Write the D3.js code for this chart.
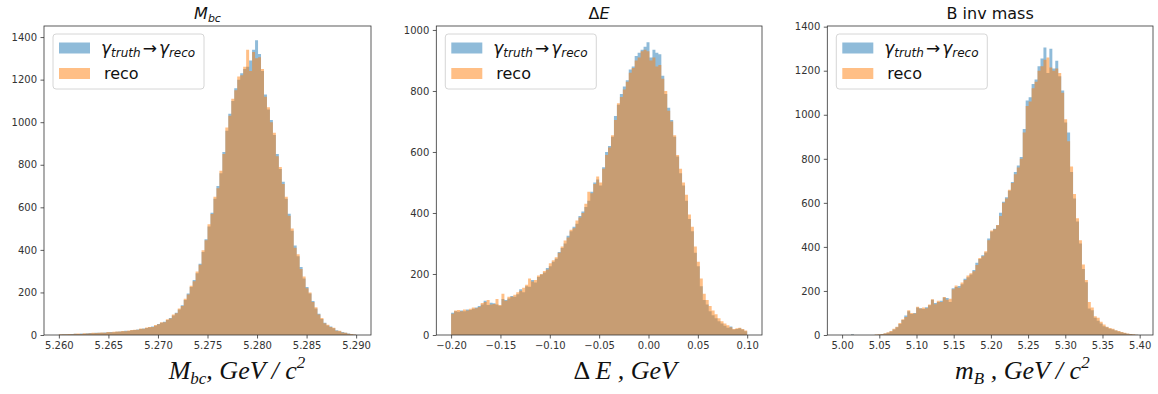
<!DOCTYPE html>
<html>
<head>
<meta charset="utf-8">
<script src="https://cdn.jsdelivr.net/npm/d3@7"></script>
<style>
  html, body { margin: 0; padding: 0; background: #fff; }
  svg { display: block; }
  .tick text { font-family: "DejaVu Sans", sans-serif; font-size: 10px; fill: #333; }
  .tick line { stroke: #333; stroke-width: 0.8; }
</style>
</head>
<body>
<svg id="chart" width="1158" height="394"></svg>
<script>
// ---------------- DATA ----------------
const seriesNames = ["truth", "reco"];

// Panel 1 : M_bc, 100 bins over [5.26, 5.29]
const mbcRange = [5.26, 5.29];
const mbcTruth = [
  2, 3, 4, 3, 5, 6, 5, 7, 6, 8,
  9, 8, 10, 11, 10, 12, 13, 14, 13, 15,
  17, 18, 20, 19, 22, 24, 26, 28, 30, 33,
  36, 40, 44, 52, 57, 62, 70, 80, 92, 105,
  120, 140, 165, 195, 225, 258, 290, 335, 390, 450,
  510, 575, 640, 700, 760, 860, 960, 1040, 1100, 1160,
  1200, 1230, 1250, 1260, 1290, 1340, 1385, 1320, 1240, 1130,
  1060, 1010, 940, 850, 780, 720, 640, 570, 490, 420,
  370, 320, 265, 225, 195, 160, 125, 100, 75, 58,
  45, 40, 32, 22, 18, 14, 10, 7, 4, 2
];
const mbcReco = [
  3, 4, 3, 5, 4, 6, 7, 5, 8, 7,
  8, 10, 9, 10, 12, 11, 14, 13, 15, 16,
  16, 19, 18, 21, 23, 25, 25, 30, 29, 35,
  38, 38, 47, 50, 60, 60, 74, 78, 96, 102,
  125, 136, 170, 190, 232, 252, 298, 330, 398, 445,
  520, 568, 650, 690, 772, 850, 975, 1030, 1110, 1150,
  1215, 1220, 1260, 1340, 1240, 1330, 1300, 1305, 1250, 1120,
  1070, 1000, 950, 840, 790, 710, 650, 560, 500, 410,
  380, 310, 275, 220, 200, 155, 130, 96, 80, 55,
  48, 38, 34, 20, 20, 12, 11, 6, 5, 2
];

// Panel 2 : Delta E, 100 bins over [-0.2, 0.1]
const deRange = [-0.2, 0.1];
const deTruth = [
  73, 78, 76, 80, 78, 84, 82, 86, 90, 95,
  100, 112, 98, 106, 104, 100, 96, 118, 115, 120,
  128, 125, 134, 150, 140, 160, 158, 180, 172, 190,
  198, 205, 220, 225, 240, 250, 272, 285, 300, 325,
  340, 355, 365, 390, 405, 420, 440, 470, 500, 510,
  490, 550, 600, 620, 650, 718, 755, 790, 815, 835,
  870, 880, 915, 925, 935, 945, 960, 910, 935, 925,
  920, 850, 790, 745, 705, 650, 585, 530, 490, 440,
  380, 340, 270, 225, 160, 115, 100, 78, 65, 55,
  45, 38, 30, 24, 28, 18, 20, 22, 18, 12
];
const deReco = [
  70, 80, 82, 78, 84, 80, 86, 90, 88, 92,
  105, 108, 115, 100, 102, 118, 98, 135, 112, 125,
  125, 132, 140, 145, 155, 165, 185, 175, 180, 195,
  200, 210, 215, 235, 245, 255, 270, 290, 310, 320,
  345, 350, 375, 385, 400, 430, 470, 465, 495, 520,
  500, 545, 590, 615, 655, 705, 760, 780, 805, 830,
  860, 875, 900, 910, 930, 935, 930, 900, 910, 880,
  885, 840, 800, 735, 700, 655, 590, 545, 500, 460,
  395, 355, 290, 240, 185, 135, 115, 95, 80, 68,
  55, 45, 38, 32, 25, 20, 22, 24, 20, 15
];

// Panel 3 : B invariant mass, 100 bins over [5.0, 5.398]
const mbRange = [5.0, 5.398];
const mbTruth = [
  0, 0, 0, 3, 0, 0, 0, 0, 0, 0,
  0, 1, 2, 4, 7, 10, 16, 25, 35, 50,
  68, 88, 108, 95, 100, 125, 122, 118, 126, 135,
  160, 145, 150, 155, 170, 168, 150, 212, 218, 222,
  230, 255, 262, 275, 295, 328, 345, 362, 375, 438,
  470, 482, 498, 555, 605, 625, 655, 695, 740, 770,
  808, 935, 1065, 1080, 1140, 1160, 1220, 1255, 1305, 1190,
  1300, 1210, 1245, 1175, 1110, 965, 920, 740, 620, 515,
  415, 300, 240, 120, 112, 78, 65, 52, 40, 35,
  28, 25, 20, 16, 12, 9, 6, 4, 2, 1
];
const mbReco = [
  0, 0, 0, 1, 0, 0, 0, 0, 0, 0,
  0, 2, 3, 5, 8, 12, 18, 28, 38, 55,
  72, 82, 112, 100, 98, 128, 120, 125, 122, 138,
  162, 140, 155, 150, 172, 160, 165, 208, 225, 215,
  238, 250, 270, 280, 290, 318, 350, 358, 380, 430,
  475, 480, 500, 540, 600, 620, 660, 690, 730, 760,
  800, 920, 1040, 1060, 1120, 1150, 1200, 1220, 1250, 1260,
  1215, 1200, 1210, 1190, 1100, 980, 880, 765, 640, 530,
  430, 320, 250, 150, 125, 85, 78, 60, 48, 38,
  32, 28, 22, 18, 14, 10, 7, 5, 3, 1
];

// Axis limits / tick labels
const yLimits = [1452, 1013, 1403];
const mbcXTicks = [5.260, 5.265, 5.270, 5.275, 5.280, 5.285, 5.290];
const deXTicks = [-0.20, -0.15, -0.10, -0.05, 0.00, 0.05, 0.10];
const mbXTicks = [5.00, 5.05, 5.10, 5.15, 5.20, 5.25, 5.30, 5.35, 5.40];
const yTicks14 = [0, 200, 400, 600, 800, 1000, 1200, 1400];
const yTicks10 = [0, 200, 400, 600, 800, 1000];
const xTickFormats = [".3f", ".2f", ".2f"];

// ---------------- LAYOUT ----------------
const svg = d3.select("#chart");
const colors = ["#1f77b4", "#ff7f0e"];
const axTop = 26, axBottom = 335;

const panels = [
  { left: 44, right: 371, range: mbcRange, series: [mbcTruth, mbcReco], xticks: mbcXTicks, yticks: yTicks14,
    ymax: yLimits[0], fmt: xTickFormats[0], title: "mbc", xlabel: "mbc", xlabelMid: 193 },
  { left: 436.3, right: 762, range: deRange, series: [deTruth, deReco], xticks: deXTicks, yticks: yTicks10,
    ymax: yLimits[1], fmt: xTickFormats[1], title: "de", xlabel: "de", xlabelMid: 189 },
  { left: 827.3, right: 1153, range: mbRange, series: [mbTruth, mbReco], xticks: mbXTicks, yticks: yTicks14,
    ymax: yLimits[2], fmt: xTickFormats[2], title: "mb", xlabel: "mb", xlabelMid: 195 }
];

panels.forEach((p) => {
  const [lo, hi] = p.range;
  const pad = 0.05 * (hi - lo);
  const x = d3.scaleLinear().domain([lo - pad, hi + pad]).range([p.left, p.right]);
  const y = d3.scaleLinear().domain([0, p.ymax]).range([axBottom, axTop]);
  const g = svg.append("g");

  // histograms
  p.series.forEach((vals, si) => {
    const n = vals.length;
    const w = (hi - lo) / n;
    const pts = vals.map((v, i) => ({ x: lo + i * w, v }));
    pts.push({ x: hi, v: vals[n - 1] });
    const area = d3.area()
      .x(d => x(d.x))
      .y0(y(0))
      .y1(d => y(d.v))
      .curve(d3.curveStepAfter);
    g.append("path")
      .attr("d", area(pts))
      .attr("fill", colors[si])
      .attr("fill-opacity", 0.5);
  });

  // axes
  const xa = g.append("g").attr("transform", `translate(0,${axBottom})`)
    .call(d3.axisBottom(x).tickValues(p.xticks).tickFormat(d3.format(p.fmt)).tickSize(3.5).tickPadding(3.5));
  xa.select(".domain").remove();
  const ya = g.append("g").attr("transform", `translate(${p.left},0)`)
    .call(d3.axisLeft(y).tickValues(p.yticks).tickFormat(d3.format("d")).tickSize(3.5).tickPadding(3.5));
  ya.select(".domain").remove();

  // spines
  g.append("rect")
    .attr("x", p.left).attr("y", axTop)
    .attr("width", p.right - p.left).attr("height", axBottom - axTop)
    .attr("fill", "none").attr("stroke", "#333").attr("stroke-width", 0.8);

  // title
  const cx = (p.left + p.right) / 2;
  const t = g.append("text").attr("x", cx).attr("y", 19).attr("text-anchor", "middle")
    .style("font-family", "'DejaVu Sans', sans-serif").style("font-size", "16px").attr("fill", "#111");
  if (p.title === "mbc") {
    t.append("tspan").style("font-style", "italic").text("M");
    t.append("tspan").style("font-style", "italic").style("font-size", "11px").attr("dy", 3).text("bc");
  } else if (p.title === "de") {
    t.append("tspan").text("Δ");
    t.append("tspan").style("font-style", "italic").text("E");
  } else {
    t.text("B inv mass");
  }

  // legend
  const lx = p.left + 9, ly = 34;
  const leg = g.append("g");
  leg.append("rect").attr("x", lx).attr("y", ly).attr("width", 151).attr("height", 55)
    .attr("rx", 3).attr("fill", "#fff").attr("fill-opacity", 0.8)
    .attr("stroke", "#cccccc").attr("stroke-width", 0.8);
  leg.append("rect").attr("x", lx + 6).attr("y", ly + 8.5).attr("width", 31).attr("height", 11)
    .attr("fill", colors[0]).attr("fill-opacity", 0.5);
  leg.append("rect").attr("x", lx + 6).attr("y", ly + 34).attr("width", 31).attr("height", 11)
    .attr("fill", colors[1]).attr("fill-opacity", 0.5);
  const l1 = leg.append("text").attr("x", lx + 48).attr("y", ly + 20)
    .style("font-family", "'DejaVu Sans', sans-serif").style("font-size", "17px").attr("fill", "#111");
  l1.append("tspan").style("font-style", "italic").text("γ");
  l1.append("tspan").style("font-style", "italic").style("font-size", "12px").attr("dy", 3).text("truth");
  l1.append("tspan").attr("dy", -3).attr("dx", 2).text("→");
  l1.append("tspan").attr("dx", 2).style("font-style", "italic").text("γ");
  l1.append("tspan").style("font-style", "italic").style("font-size", "12px").attr("dy", 3).text(seriesNames[1]);
  leg.append("text").attr("x", lx + 51).attr("y", ly + 45)
    .style("font-family", "'DejaVu Sans', sans-serif").style("font-size", "16px").attr("fill", "#111")
    .text(seriesNames[1]);

  // x label
  const xl = g.append("text").attr("x", p.left + p.xlabelMid).attr("y", 379).attr("text-anchor", "middle")
    .style("font-family", "'Liberation Serif', 'Times New Roman', serif").style("font-size", "26px")
    .style("font-style", "italic").attr("fill", "#111");
  if (p.xlabel === "mbc") {
    xl.append("tspan").text("M");
    xl.append("tspan").style("font-size", "17px").attr("dy", 5).text("bc");
    xl.append("tspan").attr("dy", -5).text(", GeV / c");
    xl.append("tspan").style("font-size", "17px").attr("dy", -11).text("2");
  } else if (p.xlabel === "de") {
    xl.append("tspan").style("font-style", "normal").text("Δ ");
    xl.append("tspan").text("E , GeV");
  } else {
    xl.append("tspan").text("m");
    xl.append("tspan").style("font-size", "17px").attr("dy", 5).text("B");
    xl.append("tspan").attr("dy", -5).text(" , GeV / c");
    xl.append("tspan").style("font-size", "17px").attr("dy", -11).text("2");
  }
});
</script>
</body>
</html>
